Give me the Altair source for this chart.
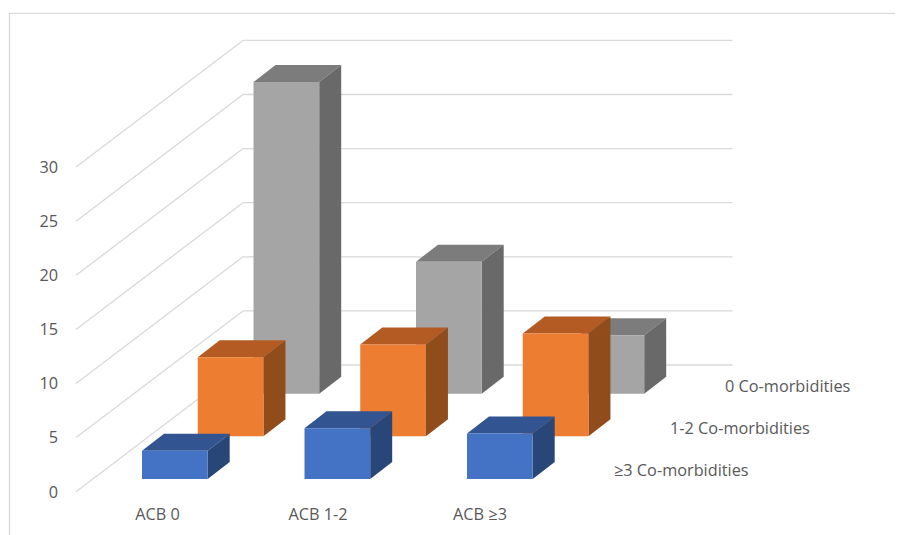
import altair as alt
import pandas as pd

categories = ["ACB 0", "ACB 1-2", "ACB ≥3"]
series_names = ["≥3 Co-morbidities", "1-2 Co-morbidities", "0 Co-morbidities"]
values_ge3 = [2.6, 4.7, 4.2]
values_1_2 = [7.3, 8.5, 9.5]
values_0 = [28.8, 12.2, 5.4]
ticks = [0, 5, 10, 15, 20, 25, 30]
front_colors = ["#4472C4", "#ED7D31", "#A5A5A5"]
top_colors = ["#325592", "#B35B22", "#7C7C7C"]
side_colors = ["#294679", "#914C1C", "#696969"]
text_color = "#595959"
grid_color = "#D9D9D9"
FONT = "Open Sans"
FS = 16.3

# oblique projection of the 3D scene onto the picture plane
UNIT = 10.82
CAT_DX = 162.5
SER_DX, SER_DY = 55.75, 42.65
BAR_W = 65.7
DEP_DX, DEP_DY = 22, 17
X0, Y0 = 142, 479
WALL_X0, WALL_Y0, WALL_X1, WALL_Y1, GRID_END = 76, 491.7, 243, 365, 732.5

xs = alt.Scale(domain=[8, 895], range=[0, 887], nice=False, zero=False)
ys = alt.Scale(domain=[8, 535], range=[0, 527], nice=False, zero=False)
X = lambda f: alt.X(f, type="quantitative", scale=xs, axis=None)
Y = lambda f: alt.Y(f, type="quantitative", scale=ys, axis=None)

series_values = [values_ge3, values_1_2, values_0]
front, side, top = [], [], []
for s, vals in enumerate(series_values):
    for c, v in enumerate(vals):
        x = X0 + c * CAT_DX + s * SER_DX
        base = Y0 - s * SER_DY
        t = base - v * UNIT
        bar = f"{s}-{c}"
        front.append(dict(series=series_names[s], cat=categories[c], value=v,
                          x=x, x2=x + BAR_W, y=t, y2=base))
        for k in (0, 1):
            side.append(dict(series=series_names[s], bar=bar,
                             x=x + BAR_W + k * DEP_DX,
                             y=t - k * DEP_DY, y2=base - k * DEP_DY))
            top.append(dict(series=series_names[s], bar=bar,
                            y=t - k * DEP_DY,
                            x=x + k * DEP_DX, x2=x + BAR_W + k * DEP_DX))
front, side, top = pd.DataFrame(front), pd.DataFrame(side), pd.DataFrame(top)

grid = pd.DataFrame([
    dict(tick=t,
         wx=WALL_X0, wy=WALL_Y0 - t * UNIT,
         bx=WALL_X1, by=WALL_Y1 - t * UNIT,
         ex=GRID_END)
    for t in ticks])
grid["label"] = grid["tick"].astype(str)
grid["lx"] = 58
grid["ly"] = grid["wy"] + 0.8

frame_top = pd.DataFrame([dict(x=9.5, x2=895, y=13.3)])
frame_left = pd.DataFrame([dict(x=9.5, y=13.3, y2=535)])

cat_labels = pd.DataFrame(dict(label=categories, x=[157.5, 318, 480], y=[515, 515, 515]))
ser_labels = pd.DataFrame(dict(label=series_names, x=[614, 670, 725], y=[471, 428.5, 386.5]))

layers = [
    alt.Chart(frame_top).mark_rule(color=grid_color, strokeWidth=1.3).encode(X("x"), x2="x2", y=Y("y")),
    alt.Chart(frame_left).mark_rule(color=grid_color, strokeWidth=1.3).encode(X("x"), y=Y("y"), y2="y2"),
    alt.Chart(grid).mark_rule(color=grid_color, strokeWidth=1.3).encode(X("wx"), x2="bx", y=Y("wy"), y2="by"),
    alt.Chart(grid).mark_rule(color=grid_color, strokeWidth=1.3).encode(X("bx"), x2="ex", y=Y("by")),
]
for s in [2, 1, 0]:
    name = series_names[s]
    layers += [
        alt.Chart(top[top.series == name]).mark_area(orient="horizontal", color=top_colors[s])
        .encode(Y("y"), X("x"), x2="x2", detail="bar:N"),
        alt.Chart(side[side.series == name]).mark_area(orient="vertical", color=side_colors[s])
        .encode(X("x"), Y("y"), y2="y2", detail="bar:N"),
        alt.Chart(front[front.series == name]).mark_rect(color=front_colors[s])
        .encode(X("x"), x2="x2", y=Y("y"), y2="y2"),
    ]
base_text = dict(font=FONT, fontSize=FS, color=text_color, baseline="middle")
layers += [
    alt.Chart(grid).mark_text(align="right", **base_text).encode(X("lx"), Y("ly"), text="label:N"),
    alt.Chart(cat_labels).mark_text(align="center", **base_text).encode(X("x"), Y("y"), text="label:N"),
    alt.Chart(ser_labels).mark_text(align="left", **base_text).encode(X("x"), Y("y"), text="label:N"),
]

chart = alt.layer(*layers).properties(
    width=887, height=527, padding=0, autosize=alt.AutoSizeParams(type="none"), background="white"
).configure_view(stroke=None)

chart.save("out.html", embed_options={"renderer": "svg", "actions": False})
